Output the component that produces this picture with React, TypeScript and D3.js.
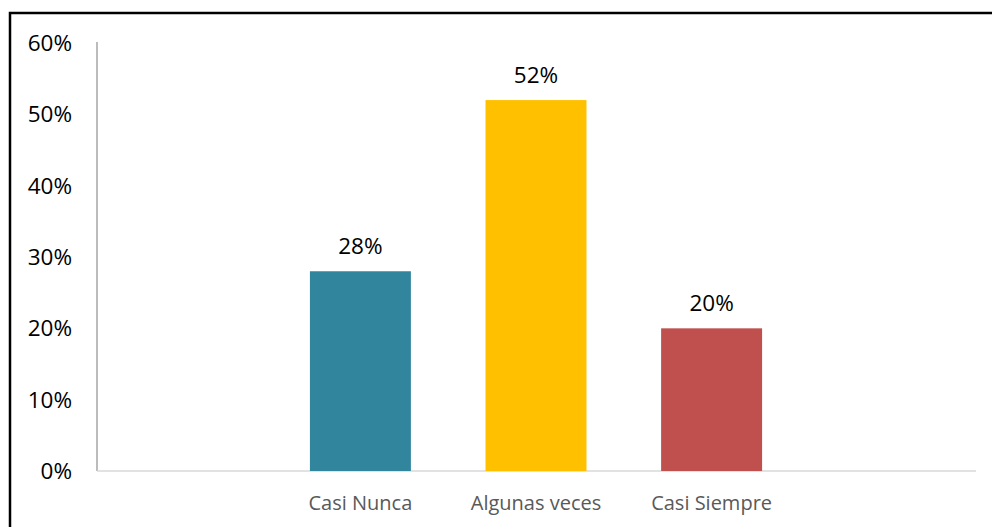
import React, { useEffect, useRef } from 'react';
import * as d3 from 'd3';

// slots: the chart keeps an empty category on each side
const categories = ['', 'Casi Nunca', 'Algunas veces', 'Casi Siempre', ' '];
const values = [null, 0.28, 0.52, 0.2, null];
const colors = ['none', '#31859c', '#ffc000', '#c0504d', 'none'];
const yTicks = [0, 0.1, 0.2, 0.3, 0.4, 0.5, 0.6];

const W = 992;
const H = 527;

const App: React.FC = () => {
  const ref = useRef<SVGSVGElement | null>(null);

  useEffect(() => {
    if (!ref.current) return;
    const svg = d3.select(ref.current);
    svg.selectAll('*').remove();

    const margin = { top: 43, right: 17, bottom: 56, left: 97 };
    const plotW = W - margin.left - margin.right;
    const plotH = H - margin.top - margin.bottom;

    // outer frame
    svg.append('rect')
      .attr('x', 10).attr('y', 13)
      .attr('width', 1000).attr('height', 600)
      .attr('fill', '#fff')
      .attr('stroke', '#000')
      .attr('stroke-width', 2.5);

    const x = d3.scaleBand<number>()
      .domain(categories.map((_, i) => i))
      .range([0, plotW])
      .paddingInner(0.425)
      .paddingOuter(0.2125);

    const y = d3.scaleLinear().domain([0, 0.6]).range([plotH, 0]);

    const g = svg.append('g').attr('transform', `translate(${margin.left},${margin.top})`);

    // y axis
    g.append('line')
      .attr('x1', 0).attr('x2', 0)
      .attr('y1', y(0.6) - 1).attr('y2', plotH)
      .attr('stroke', '#a6a6a6').attr('stroke-width', 1.5);

    g.selectAll('text.ytick')
      .data(yTicks)
      .enter()
      .append('text')
      .attr('class', 'ytick')
      .attr('x', -25)
      .attr('y', d => y(d))
      .attr('dy', '0.35em')
      .attr('text-anchor', 'end')
      .style('font-family', '"Open Sans", sans-serif')
      .style('font-size', '22.5px')
      .attr('fill', '#000')
      .text(d => d3.format('.0%')(d));

    // x axis
    g.append('line')
      .attr('x1', 0).attr('x2', plotW + 1)
      .attr('y1', plotH).attr('y2', plotH)
      .attr('stroke', '#d9d9d9').attr('stroke-width', 1.5);

    const idx = categories.map((_, i) => i).filter(i => values[i] != null);

    g.selectAll('rect.bar')
      .data(idx)
      .enter()
      .append('rect')
      .attr('class', 'bar')
      .attr('x', i => x(i)!)
      .attr('y', i => y(values[i] as number))
      .attr('width', x.bandwidth())
      .attr('height', i => plotH - y(values[i] as number))
      .attr('fill', i => colors[i]);

    // data labels
    g.selectAll('text.val')
      .data(idx)
      .enter()
      .append('text')
      .attr('class', 'val')
      .attr('x', i => x(i)! + x.bandwidth() / 2)
      .attr('y', i => y(values[i] as number) - 17)
      .attr('text-anchor', 'middle')
      .style('font-family', '"Open Sans", sans-serif')
      .style('font-size', '22.5px')
      .attr('fill', '#000')
      .text(i => d3.format('.0%')(values[i] as number));

    // category labels
    g.selectAll('text.cat')
      .data(idx)
      .enter()
      .append('text')
      .attr('class', 'cat')
      .attr('x', i => x(i)! + x.bandwidth() / 2)
      .attr('y', plotH + 39)
      .attr('text-anchor', 'middle')
      .style('font-family', '"Open Sans", sans-serif')
      .style('font-size', '20px')
      .attr('fill', '#595959')
      .text(i => categories[i]);
  }, []);

  return (
    <svg
      ref={ref}
      width={W}
      height={H}
      style={{ position: 'absolute', left: 0, top: 0, background: '#fff' }}
    />
  );
};

export default App;
